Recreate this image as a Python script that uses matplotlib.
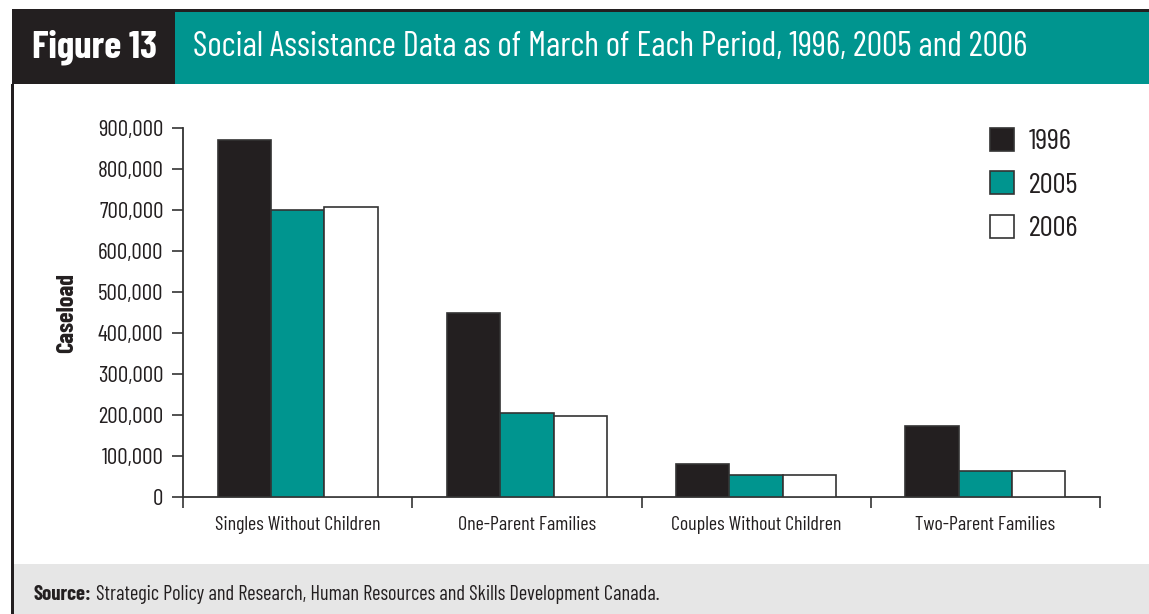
import matplotlib
matplotlib.use("Agg")
import matplotlib.pyplot as plt
from matplotlib.patches import Rectangle
from matplotlib import font_manager as fm

categories = ["Singles Without Children", "One-Parent Families",
              "Couples Without Children", "Two-Parent Families"]
years = ["1996", "2005", "2006"]
values_1996 = [870000, 449000, 80000, 172000]
values_2005 = [699000, 205000, 52000, 62000]
values_2006 = [707000, 197000, 52000, 62000]
yticks = [0, 100000, 200000, 300000, 400000, 500000, 600000, 700000, 800000, 900000]
ytick_labels = [f"{v:,}" for v in yticks]
title_tag = "Figure 13"
title_text = "Social Assistance Data as of March of Each Period, 1996, 2005 and 2006"
ylabel = "Caseload"
source_bold = "Source:"
source_text = "Strategic Policy and Research, Human Resources and Skills Development Canada."

DARK = "#231f20"
TEAL = "#00958f"
GRAY = "#e6e6e6"
series_colors = [DARK, TEAL, "white"]

names = {f.name for f in fm.fontManager.ttflist}
FAM = [n for n in ["Barlow Condensed", "Roboto Condensed", "Liberation Sans Narrow"] if n in names]
FAM = FAM + ["DejaVu Sans"]
plt.rcParams["font.family"] = FAM

W, H = 1149, 614
fig = plt.figure(figsize=(W / 100, H / 100), dpi=100)


def rect(x0, y0, x1, y1, color):
    fig.patches.append(Rectangle((x0 / W, 1 - y1 / H), (x1 - x0) / W, (y1 - y0) / H,
                                 transform=fig.transFigure, facecolor=color,
                                 edgecolor="none", zorder=0))


# frame decorations
rect(12, 9, W, 12, DARK)          # top rule
rect(12, 12, 175, 84, DARK)       # figure tag box
rect(175, 12, W, 84, TEAL)        # title box
rect(12, 564, W, H, GRAY)         # source box
rect(11, 84, 14, H, DARK)         # left rule

renderer = fig.canvas.get_renderer()


def fit(t, target_w):
    bb = t.get_window_extent(renderer=renderer)
    t.set_fontsize(t.get_fontsize() * target_w / bb.width)


def size_for(text, target_w, weight="normal"):
    t = fig.text(0, 0, text, fontsize=20, fontweight=weight)
    bb = t.get_window_extent(renderer=renderer)
    t.remove()
    return 20 * target_w / bb.width


t1 = fig.text(95 / W, 1 - 47 / H, title_tag, color="white", fontsize=24,
              fontweight="bold", ha="center", va="center")
fit(t1, 125)
t2 = fig.text(193 / W, 1 - 47 / H, title_text, color="white", fontsize=24,
              ha="left", va="center")
fit(t2, 832)
s1 = fig.text(33 / W, 1 - 594 / H, source_bold, color=DARK, fontsize=12,
              fontweight="bold", ha="left", va="center")
fit(s1, 58)
s2 = fig.text(96 / W, 1 - 594 / H, source_text, color=DARK, fontsize=12,
              ha="left", va="center")
fit(s2, 562)

tick_fs = size_for("900,000", 65)
cat_fs = size_for(categories[0], 166)
leg_fs = size_for("1996", 43)

# axes
y0px, y9px = 496.7, 127.5
ax = fig.add_axes([183 / W, 1 - y0px / H, (1100 - 183) / W, (y0px - y9px) / H])
x = list(range(len(categories)))
bw = 0.233
series = [values_1996, values_2005, values_2006]
handles = []
for i, (vals, col, yr) in enumerate(zip(series, series_colors, years)):
    b = ax.bar([xi + (i - 1) * bw for xi in x], vals, width=bw, color=col,
               edgecolor="#333333", linewidth=1.2, label=yr, zorder=3)
    handles.append(b)

ax.set_xlim(-0.5, len(categories) - 0.5)
ax.set_ylim(0, 900000)
for s in ["top", "right"]:
    ax.spines[s].set_visible(False)
for s in ["left", "bottom"]:
    ax.spines[s].set_color("#333333")
    ax.spines[s].set_linewidth(1.3)

ax.set_yticks(yticks)
ax.set_yticklabels(ytick_labels)
ax.tick_params(axis="y", direction="out", length=8, width=1.2, color="#333333",
               labelsize=tick_fs, labelcolor=DARK, pad=6)
ax.set_xticks([i - 0.5 for i in range(len(categories) + 1)])
ax.set_xticklabels([])
ax.tick_params(axis="x", which="major", direction="out", length=8, width=1.2,
               color="#333333")
ax.set_xticks(x, minor=True)
ax.set_xticklabels(categories, minor=True)
ax.tick_params(axis="x", which="minor", length=0, labelsize=cat_fs, labelcolor=DARK, pad=14)

yl = fig.text(67 / W, 1 - 313 / H, ylabel, rotation=90, color=DARK, fontsize=18,
              fontweight="bold", ha="center", va="center")
fit_bb = yl.get_window_extent(renderer=renderer)
yl.set_fontsize(yl.get_fontsize() * 80 / fit_bb.height)

leg = ax.legend(handles=handles, loc="upper left",
                bbox_to_anchor=(990 / W, 1 - 128 / H), bbox_transform=fig.transFigure,
                frameon=False, fontsize=leg_fs, borderpad=0, borderaxespad=0,
                handlelength=24 / (leg_fs * 100 / 72), handleheight=24 / (leg_fs * 100 / 72),
                handletextpad=15 / (leg_fs * 100 / 72),
                labelspacing=0.55)
for txt in leg.get_texts():
    txt.set_color(DARK)

fig.savefig("out.png", dpi=100)
